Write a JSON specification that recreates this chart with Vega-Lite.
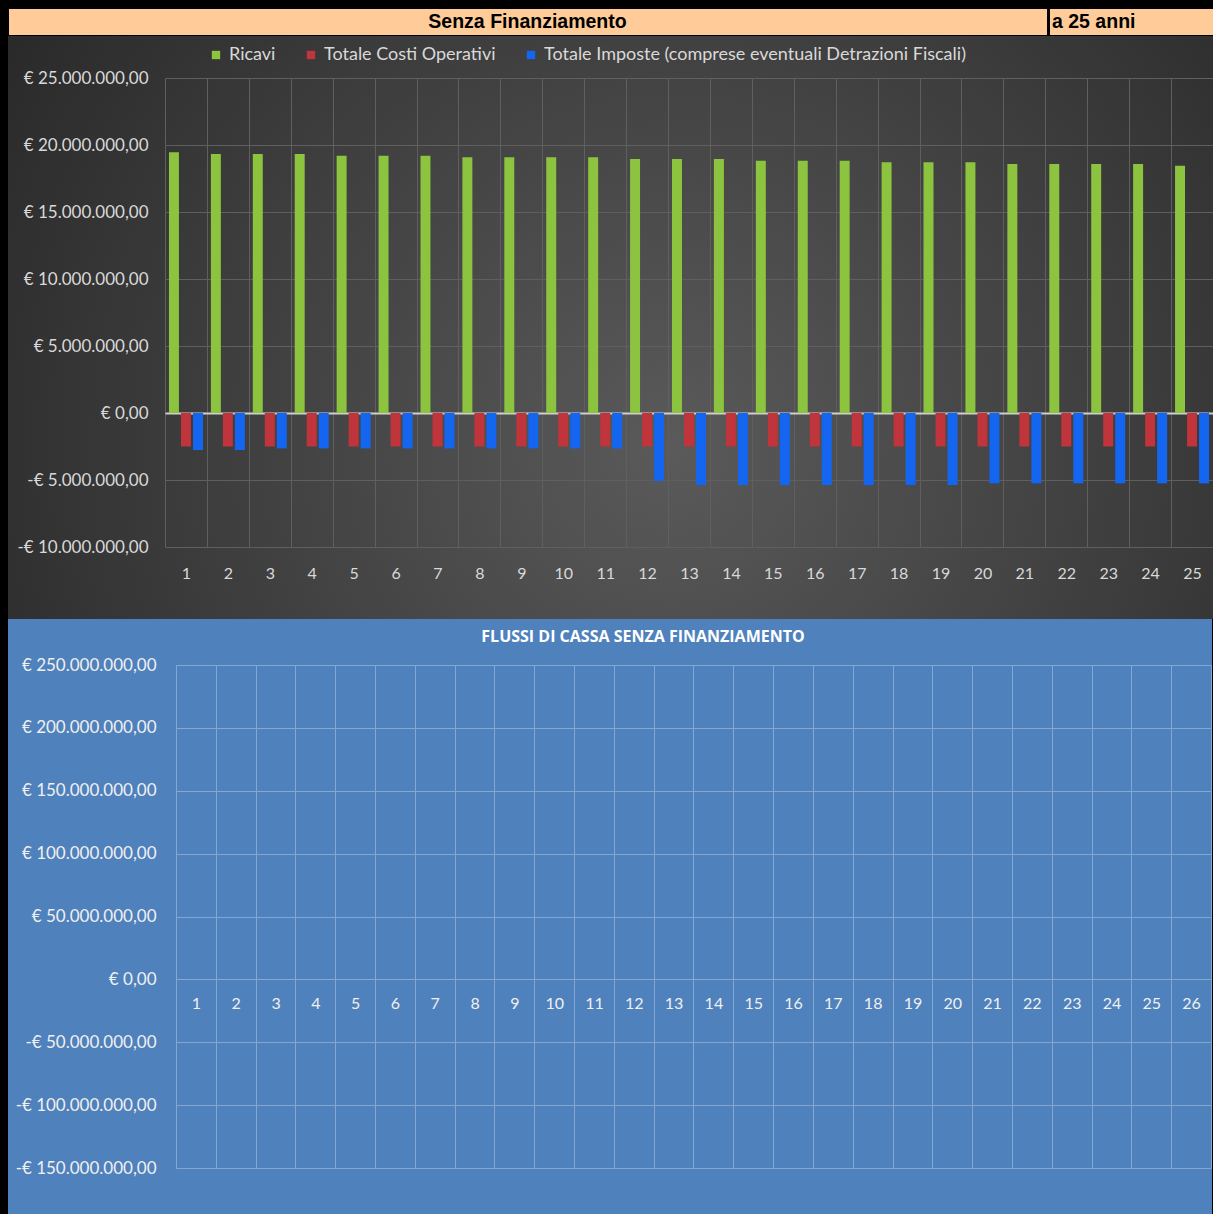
{
  "$schema": "https://vega.github.io/schema/vega-lite/v6.json",
  "background": "#000000",
  "padding": {"left": 7, "top": 7, "right": 0, "bottom": 0},
  "config": {"font": "Lato", "view": {"strokeWidth": 0}},
  "spacing": 0,
  "vconcat": [
    {
      "spacing": 0,
      "hconcat": [
        {
          "width": 1039,
          "height": 27,
          "view": {"fill": "#FFCC99", "stroke": "#000000", "strokeWidth": 1},
          "data": {"values": [{"testo": "Senza Finanziamento"}]},
          "mark": {"type": "text", "font": "Liberation Sans", "fontWeight": "bold", "fontSize": 19.5, "color": "#000000"},
          "encoding": {"text": {"field": "testo", "type": "nominal"}}
        },
        {
          "width": 167,
          "height": 27,
          "view": {"fill": "#FFCC99", "stroke": "#000000", "strokeWidth": 1},
          "data": {"values": [{"testo": "a 25 anni"}]},
          "mark": {"type": "text", "font": "Liberation Sans", "fontWeight": "bold", "fontSize": 19.5, "color": "#000000", "align": "left"},
          "encoding": {"text": {"field": "testo", "type": "nominal"}, "x": {"value": 3}}
        }
      ]
    },
    {
      "width": 1206,
      "height": 583,
      "view": {
        "stroke": null,
        "fill": {
          "gradient": "radial",
          "x1": 0.55, "y1": 0.6, "r1": 0,
          "x2": 0.55, "y2": 0.6, "r2": 0.75,
          "stops": [
            {"offset": 0, "color": "#5a5a5a"},
            {"offset": 1, "color": "#222222"}
          ]
        }
      },
      "data": {
        "values": [
          {"anno": 1, "voce": "Ricavi", "valore": 19460000},
          {"anno": 2, "voce": "Ricavi", "valore": 19330000},
          {"anno": 3, "voce": "Ricavi", "valore": 19330000},
          {"anno": 4, "voce": "Ricavi", "valore": 19330000},
          {"anno": 5, "voce": "Ricavi", "valore": 19200000},
          {"anno": 6, "voce": "Ricavi", "valore": 19200000},
          {"anno": 7, "voce": "Ricavi", "valore": 19200000},
          {"anno": 8, "voce": "Ricavi", "valore": 19080000},
          {"anno": 9, "voce": "Ricavi", "valore": 19080000},
          {"anno": 10, "voce": "Ricavi", "valore": 19080000},
          {"anno": 11, "voce": "Ricavi", "valore": 19080000},
          {"anno": 12, "voce": "Ricavi", "valore": 18960000},
          {"anno": 13, "voce": "Ricavi", "valore": 18960000},
          {"anno": 14, "voce": "Ricavi", "valore": 18960000},
          {"anno": 15, "voce": "Ricavi", "valore": 18830000},
          {"anno": 16, "voce": "Ricavi", "valore": 18830000},
          {"anno": 17, "voce": "Ricavi", "valore": 18830000},
          {"anno": 18, "voce": "Ricavi", "valore": 18710000},
          {"anno": 19, "voce": "Ricavi", "valore": 18710000},
          {"anno": 20, "voce": "Ricavi", "valore": 18710000},
          {"anno": 21, "voce": "Ricavi", "valore": 18580000},
          {"anno": 22, "voce": "Ricavi", "valore": 18580000},
          {"anno": 23, "voce": "Ricavi", "valore": 18580000},
          {"anno": 24, "voce": "Ricavi", "valore": 18580000},
          {"anno": 25, "voce": "Ricavi", "valore": 18460000},
          {"anno": 1, "voce": "Totale Costi Operativi", "valore": -2500000},
          {"anno": 2, "voce": "Totale Costi Operativi", "valore": -2500000},
          {"anno": 3, "voce": "Totale Costi Operativi", "valore": -2500000},
          {"anno": 4, "voce": "Totale Costi Operativi", "valore": -2500000},
          {"anno": 5, "voce": "Totale Costi Operativi", "valore": -2500000},
          {"anno": 6, "voce": "Totale Costi Operativi", "valore": -2500000},
          {"anno": 7, "voce": "Totale Costi Operativi", "valore": -2500000},
          {"anno": 8, "voce": "Totale Costi Operativi", "valore": -2500000},
          {"anno": 9, "voce": "Totale Costi Operativi", "valore": -2500000},
          {"anno": 10, "voce": "Totale Costi Operativi", "valore": -2500000},
          {"anno": 11, "voce": "Totale Costi Operativi", "valore": -2500000},
          {"anno": 12, "voce": "Totale Costi Operativi", "valore": -2500000},
          {"anno": 13, "voce": "Totale Costi Operativi", "valore": -2500000},
          {"anno": 14, "voce": "Totale Costi Operativi", "valore": -2500000},
          {"anno": 15, "voce": "Totale Costi Operativi", "valore": -2500000},
          {"anno": 16, "voce": "Totale Costi Operativi", "valore": -2500000},
          {"anno": 17, "voce": "Totale Costi Operativi", "valore": -2500000},
          {"anno": 18, "voce": "Totale Costi Operativi", "valore": -2500000},
          {"anno": 19, "voce": "Totale Costi Operativi", "valore": -2500000},
          {"anno": 20, "voce": "Totale Costi Operativi", "valore": -2500000},
          {"anno": 21, "voce": "Totale Costi Operativi", "valore": -2500000},
          {"anno": 22, "voce": "Totale Costi Operativi", "valore": -2500000},
          {"anno": 23, "voce": "Totale Costi Operativi", "valore": -2500000},
          {"anno": 24, "voce": "Totale Costi Operativi", "valore": -2500000},
          {"anno": 25, "voce": "Totale Costi Operativi", "valore": -2500000},
          {"anno": 1, "voce": "Totale Imposte (comprese eventuali Detrazioni Fiscali)", "valore": -2760000},
          {"anno": 2, "voce": "Totale Imposte (comprese eventuali Detrazioni Fiscali)", "valore": -2760000},
          {"anno": 3, "voce": "Totale Imposte (comprese eventuali Detrazioni Fiscali)", "valore": -2640000},
          {"anno": 4, "voce": "Totale Imposte (comprese eventuali Detrazioni Fiscali)", "valore": -2640000},
          {"anno": 5, "voce": "Totale Imposte (comprese eventuali Detrazioni Fiscali)", "valore": -2640000},
          {"anno": 6, "voce": "Totale Imposte (comprese eventuali Detrazioni Fiscali)", "valore": -2640000},
          {"anno": 7, "voce": "Totale Imposte (comprese eventuali Detrazioni Fiscali)", "valore": -2640000},
          {"anno": 8, "voce": "Totale Imposte (comprese eventuali Detrazioni Fiscali)", "valore": -2640000},
          {"anno": 9, "voce": "Totale Imposte (comprese eventuali Detrazioni Fiscali)", "valore": -2640000},
          {"anno": 10, "voce": "Totale Imposte (comprese eventuali Detrazioni Fiscali)", "valore": -2640000},
          {"anno": 11, "voce": "Totale Imposte (comprese eventuali Detrazioni Fiscali)", "valore": -2640000},
          {"anno": 12, "voce": "Totale Imposte (comprese eventuali Detrazioni Fiscali)", "valore": -5070000},
          {"anno": 13, "voce": "Totale Imposte (comprese eventuali Detrazioni Fiscali)", "valore": -5370000},
          {"anno": 14, "voce": "Totale Imposte (comprese eventuali Detrazioni Fiscali)", "valore": -5370000},
          {"anno": 15, "voce": "Totale Imposte (comprese eventuali Detrazioni Fiscali)", "valore": -5370000},
          {"anno": 16, "voce": "Totale Imposte (comprese eventuali Detrazioni Fiscali)", "valore": -5370000},
          {"anno": 17, "voce": "Totale Imposte (comprese eventuali Detrazioni Fiscali)", "valore": -5370000},
          {"anno": 18, "voce": "Totale Imposte (comprese eventuali Detrazioni Fiscali)", "valore": -5370000},
          {"anno": 19, "voce": "Totale Imposte (comprese eventuali Detrazioni Fiscali)", "valore": -5370000},
          {"anno": 20, "voce": "Totale Imposte (comprese eventuali Detrazioni Fiscali)", "valore": -5250000},
          {"anno": 21, "voce": "Totale Imposte (comprese eventuali Detrazioni Fiscali)", "valore": -5250000},
          {"anno": 22, "voce": "Totale Imposte (comprese eventuali Detrazioni Fiscali)", "valore": -5250000},
          {"anno": 23, "voce": "Totale Imposte (comprese eventuali Detrazioni Fiscali)", "valore": -5250000},
          {"anno": 24, "voce": "Totale Imposte (comprese eventuali Detrazioni Fiscali)", "valore": -5250000},
          {"anno": 25, "voce": "Totale Imposte (comprese eventuali Detrazioni Fiscali)", "valore": -5250000}
        ]
      },
      "mark": {"type": "bar"},
      "encoding": {
        "x": {
          "field": "anno",
          "type": "ordinal",
          "scale": {"range": [157, 1205], "paddingInner": 0, "paddingOuter": 0},
          "axis": {
            "title": null, "orient": "top", "labelAngle": 0, "offset": -511, "domain": false, "ticks": false,
            "labelPadding": -26, "labelBaseline": "middle", "labelFontSize": 16, "labelColor": "#d9d9d9",
            "grid": true, "gridColor": "#5f5f5f", "tickBand": "extent"
          }
        },
        "xOffset": {
          "field": "voce",
          "type": "nominal",
          "scale": {
            "domain": ["Ricavi", "Totale Costi Operativi", "Totale Imposte (comprese eventuali Detrazioni Fiscali)"],
            "paddingInner": 0.17,
            "paddingOuter": 0.33
          }
        },
        "y": {
          "field": "valore",
          "type": "quantitative",
          "scale": {"domain": [-10000000, 25000000], "range": [511, 42], "nice": false, "zero": true},
          "axis": {
            "title": null, "offset": -157, "domain": false, "ticks": false, "labelPadding": 17,
            "values": [-10000000, -5000000, 0, 5000000, 10000000, 15000000, 20000000, 25000000],
            "labelExpr": "(datum.value < 0 ? '-€ ' : '€ ') + replace(replace(replace(format(abs(datum.value), ',.2f'), regexp(',', 'g'), '#'), '.', ','), regexp('#', 'g'), '.')",
            "labelFontSize": 17, "labelColor": "#d9d9d9",
            "gridColor": {"condition": {"test": "datum.value === 0", "value": "#cfcfcf"}, "value": "#5f5f5f"},
            "gridWidth": {"condition": {"test": "datum.value === 0", "value": 2}, "value": 1}
          }
        },
        "color": {
          "field": "voce",
          "type": "nominal",
          "scale": {
            "domain": ["Ricavi", "Totale Costi Operativi", "Totale Imposte (comprese eventuali Detrazioni Fiscali)"],
            "range": ["#8CC43F", "#C0343C", "#1466F0"]
          },
          "legend": {
            "title": null, "orient": "none", "legendX": 199, "legendY": 38, "direction": "horizontal",
            "symbolType": "square", "symbolSize": 70, "symbolStrokeWidth": 0,
            "labelFontSize": 18, "labelColor": "#d9d9d9", "columnPadding": 26, "labelOffset": 4, "labelLimit": 700
          }
        }
      }
    },
    {
      "width": 1204,
      "height": 595,
      "view": {"fill": "#4F81BD", "stroke": null},
      "title": {
        "text": "FLUSSI DI CASSA SENZA FINANZIAMENTO",
        "color": "#ffffff", "fontSize": 16, "fontWeight": "bold", "font": "Open Sans",
        "offset": -26, "anchor": "middle", "dx": 33
      },
      "data": {
        "values": [
          {"anno": 1, "flusso": 0}, {"anno": 2, "flusso": 0}, {"anno": 3, "flusso": 0},
          {"anno": 4, "flusso": 0}, {"anno": 5, "flusso": 0}, {"anno": 6, "flusso": 0},
          {"anno": 7, "flusso": 0}, {"anno": 8, "flusso": 0}, {"anno": 9, "flusso": 0},
          {"anno": 10, "flusso": 0}, {"anno": 11, "flusso": 0}, {"anno": 12, "flusso": 0},
          {"anno": 13, "flusso": 0}, {"anno": 14, "flusso": 0}, {"anno": 15, "flusso": 0},
          {"anno": 16, "flusso": 0}, {"anno": 17, "flusso": 0}, {"anno": 18, "flusso": 0},
          {"anno": 19, "flusso": 0}, {"anno": 20, "flusso": 0}, {"anno": 21, "flusso": 0},
          {"anno": 22, "flusso": 0}, {"anno": 23, "flusso": 0}, {"anno": 24, "flusso": 0},
          {"anno": 25, "flusso": 0}, {"anno": 26, "flusso": 0}
        ]
      },
      "mark": {"type": "bar", "color": "#4F81BD"},
      "encoding": {
        "x": {
          "field": "anno",
          "type": "ordinal",
          "scale": {"range": [168, 1203], "paddingInner": 0, "paddingOuter": 0},
          "axis": {
            "title": null, "labelAngle": 0, "offset": -235, "domain": false, "ticks": false,
            "labelPadding": 16, "labelFontSize": 16, "labelColor": "#f0f0f0",
            "grid": true, "gridColor": "#84a6d2", "tickBand": "extent"
          }
        },
        "y": {
          "field": "flusso",
          "type": "quantitative",
          "scale": {"domain": [-150000000, 250000000], "range": [549, 46], "nice": false},
          "axis": {
            "title": null, "offset": -168, "domain": false, "ticks": false, "labelPadding": 20,
            "values": [-150000000, -100000000, -50000000, 0, 50000000, 100000000, 150000000, 200000000, 250000000],
            "labelExpr": "(datum.value < 0 ? '-€ ' : '€ ') + replace(replace(replace(format(abs(datum.value), ',.2f'), regexp(',', 'g'), '#'), '.', ','), regexp('#', 'g'), '.')",
            "labelFontSize": 17, "labelColor": "#f0f0f0",
            "gridColor": "#84a6d2"
          }
        }
      }
    }
  ]
}
